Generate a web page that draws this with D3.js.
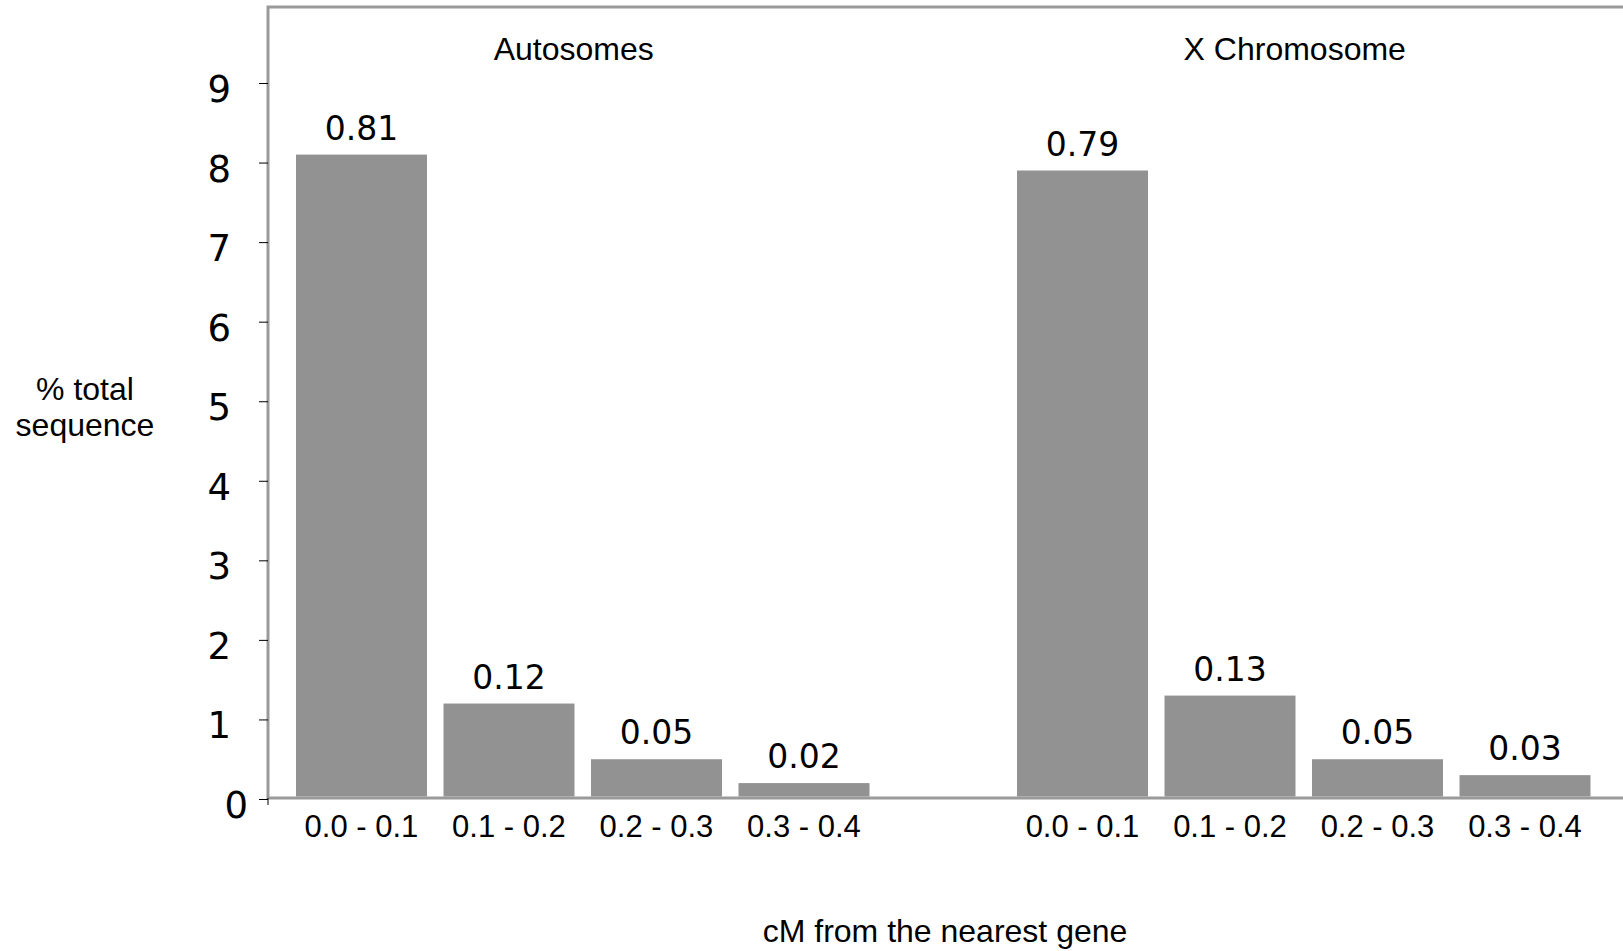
<!DOCTYPE html>
<html>
<head>
<meta charset="utf-8">
<script src="https://cdn.jsdelivr.net/npm/d3@7/dist/d3.min.js"></script>
<style>
  html, body { margin: 0; padding: 0; background: #fff; }
  svg { display: block; }
</style>
</head>
<body>
<svg id="chart" width="1623" height="951"></svg>
<script>
// Share of total sequence by genetic distance (cM) to the nearest gene
const groups = ["Autosomes", "X Chromosome"];
const categories = ["0.0 - 0.1", "0.1 - 0.2", "0.2 - 0.3", "0.3 - 0.4"];
const autosomeValues = [0.81, 0.12, 0.05, 0.02];
const xChromosomeValues = [0.79, 0.13, 0.05, 0.03];
const yTickValues = [0, 1, 2, 3, 4, 5, 6, 7, 8, 9];
const yAxisTitle = ["% total", "sequence"];
const xAxisTitle = "cM from the nearest gene";

const seriesByGroup = [autosomeValues, xChromosomeValues];

const frame = { left: 268, top: 7, right: 1640, bottom: 798 };

const svg = d3.select("#chart");

const bars = [];
groups.forEach((g, gi) => {
  categories.forEach((c, ci) => {
    bars.push({ group: g, category: c, value: seriesByGroup[gi][ci] });
  });
});

// Outer scale places the two groups, inner scale places the bars in a group
const x0 = d3.scaleBand()
  .domain(groups)
  .range([296, 1590.5])
  .paddingInner(0.2046)
  .paddingOuter(0);

const x1 = d3.scaleBand()
  .domain(categories)
  .range([0, x0.bandwidth()])
  .paddingInner(0.112)
  .paddingOuter(0);

const barX = d => x0(d.group) + x1(d.category);

// Bars are plotted as fractions; the axis reads them in tenths
const y = d3.scaleLinear().domain([0, 0.9]).range([799, 83]);

// Plot frame (right side runs past the canvas)
svg.append("rect")
  .attr("x", frame.left).attr("y", frame.top)
  .attr("width", frame.right - frame.left)
  .attr("height", frame.bottom - frame.top)
  .attr("fill", "none")
  .attr("stroke", "#9a9a9a")
  .attr("stroke-width", 3);

// Bars
svg.append("g").selectAll("rect")
  .data(bars)
  .join("rect")
  .attr("x", barX)
  .attr("width", x1.bandwidth())
  .attr("y", d => y(d.value))
  .attr("height", d => frame.bottom - 1.5 - y(d.value))
  .attr("fill", "#929292");

// Value labels
svg.append("g").selectAll("text")
  .data(bars)
  .join("text")
  .attr("x", d => barX(d) + x1.bandwidth() / 2)
  .attr("y", d => y(d.value) - 15)
  .attr("text-anchor", "middle")
  .attr("font-family", "DejaVu Sans, Verdana, sans-serif")
  .attr("font-size", 33)
  .attr("fill", "#000")
  .text(d => d3.format(".2f")(d.value));

// Y axis ticks and labels
const yAxis = d3.axisLeft(y)
  .tickValues(yTickValues.map(v => v / 10))
  .tickSize(9)
  .tickPadding(28)
  .tickFormat(d => d3.format("d")(Math.round(d * 10)));

const gy = svg.append("g")
  .attr("transform", `translate(${frame.left},0)`)
  .call(yAxis);
gy.select(".domain").remove();
gy.selectAll(".tick line").attr("stroke", "#000").attr("stroke-width", 1);
gy.selectAll(".tick text")
  .attr("font-family", "DejaVu Sans, Verdana, sans-serif")
  .attr("font-size", 37)
  .attr("fill", "#000")
  .attr("dy", "0.5em")
  .attr("dx", d => d === 0 ? 17 : 0);

// Small stub below the axis corner
svg.append("line")
  .attr("x1", frame.left).attr("x2", frame.left)
  .attr("y1", frame.bottom).attr("y2", frame.bottom + 7)
  .attr("stroke", "#000").attr("stroke-width", 1);

// Category labels
svg.append("g").selectAll("text")
  .data(bars)
  .join("text")
  .attr("x", d => barX(d) + x1.bandwidth() / 2)
  .attr("y", 837)
  .attr("text-anchor", "middle")
  .attr("font-family", "Liberation Sans, Arial, sans-serif")
  .attr("font-size", 31)
  .attr("fill", "#000")
  .text(d => d.category);

// Group titles
svg.append("g").selectAll("text")
  .data(groups)
  .join("text")
  .attr("x", g => x0(g) + x0.bandwidth() / 2 - 9)
  .attr("y", 60)
  .attr("text-anchor", "middle")
  .attr("font-family", "Liberation Sans, Arial, sans-serif")
  .attr("font-size", 32)
  .attr("fill", "#000")
  .text(g => g);

// Y axis title
svg.append("text")
  .attr("x", 85).attr("y", 400)
  .attr("text-anchor", "middle")
  .attr("font-family", "Liberation Sans, Arial, sans-serif")
  .attr("font-size", 32)
  .attr("fill", "#000")
  .selectAll("tspan")
  .data(yAxisTitle)
  .join("tspan")
  .attr("x", 85)
  .attr("dy", (d, i) => i === 0 ? 0 : 36)
  .text(d => d);

// X axis title
svg.append("text")
  .attr("x", 945).attr("y", 942)
  .attr("text-anchor", "middle")
  .attr("font-family", "Liberation Sans, Arial, sans-serif")
  .attr("font-size", 32)
  .attr("fill", "#000")
  .text(xAxisTitle);
</script>
</body>
</html>
